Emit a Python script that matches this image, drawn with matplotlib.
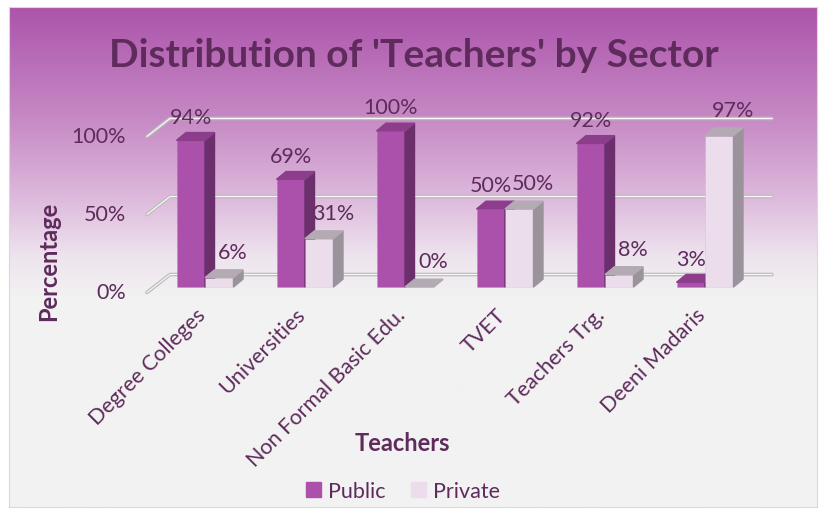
import numpy as np
import matplotlib.pyplot as plt
from matplotlib.patches import Polygon, Patch
from matplotlib.colors import LinearSegmentedColormap

categories = ['Degree Colleges', 'Universities', 'Non Formal Basic Edu.',
              'TVET', 'Teachers Trg.', 'Deeni Madaris']
public = [94, 69, 100, 50, 92, 3]
private = [6, 31, 0, 50, 8, 97]
yticks = [0, 50, 100]

plt.rcParams['font.family'] = ['Lato', 'DejaVu Sans']
TXT = '#5E2B5C'
PUB = ('#AB50AB', '#6B2F6B', '#8C3D8C')   # front, side, top
PRI = ('#EBDDEC', '#9B939B', '#B4AAB4')

W, H = 821, 510
fig = plt.figure(figsize=(W / 100, H / 100), dpi=100)


def box(x0, y0, x1, y1):
    # pixel box, origin top-left -> figure rect
    return [x0 / W, 1 - y1 / H, (x1 - x0) / W, (y1 - y0) / H]


# chart area with vertical gradient
bg = fig.add_axes(box(9, 8, 817, 508), zorder=0)
cmap = LinearSegmentedColormap.from_list('bg', [
    (0, '#AC54AB'), (0.22, '#C689C4'), (0.38, '#DDB9DC'),
    (0.5, '#EEE4EE'), (0.58, '#F2F2F2'), (1, '#F2F2F2')])
bg.imshow(np.linspace(0, 1, 256).reshape(-1, 1), aspect='auto', cmap=cmap,
          extent=(0, 1, 0, 1))
bg.set_xticks([])
bg.set_yticks([])
for s in bg.spines.values():
    s.set_color('#D9D9D9')

# plot area
ax = fig.add_axes(box(140, 112, 780, 296), zorder=1)
ax.set_xlim(-0.65, 5.75)
ax.set_ylim(-5.13, 112.8)
ax.patch.set_alpha(0)
ax.axis('off')

x = np.arange(len(categories))
w = 0.285
dx, dy = 0.095, 5.0

# back wall gridlines with slanted floor/side ends
for v in yticks:
    for c, lw in (('#BDBDBD', 2.6), ('#FAFAFA', 0.8)):
        ax.plot([-0.58, -0.35, 5.67], [v - 3.5, v + 8, v + 8], color=c, lw=lw,
                zorder=1, solid_capstyle='round')
    ax.text(-0.79, v - 3.5, f'{v}%', ha='right', va='center', fontsize=15.5,
            color=TXT)


def bars3d(xs, vals, cols, z):
    ax.bar(xs, vals, w, color=cols[0], edgecolor='#00000010', lw=0.5, zorder=z)
    for xc, v in zip(xs, vals):
        xl, xr = xc - w / 2, xc + w / 2
        ax.add_patch(Polygon([(xr, 0), (xr + dx, dy), (xr + dx, v + dy), (xr, v)],
                             closed=True, color=cols[1], zorder=z))
        ax.add_patch(Polygon([(xl, v), (xr, v), (xr + dx, v + dy), (xl + dx, v + dy)],
                             closed=True, color=cols[2], zorder=z))


bars3d(x - w / 2, public, PUB, 2)
bars3d(x + w / 2, private, PRI, 3)

for xi, v in zip(x - w / 2, public):
    ax.annotate(f'{v}%', (xi, v), xytext=(0, 17), textcoords='offset points',
                ha='center', va='center', fontsize=15.5, color=TXT, zorder=5)
for xi, v in zip(x + w / 2, private):
    ax.annotate(f'{v}%', (xi, v), xytext=(10, 18.5), textcoords='offset points',
                ha='center', va='center', fontsize=15.5, color=TXT, zorder=5)

for xi, lab in zip(x, categories):
    ax.text(xi - 0.1, -11, lab, rotation=45, ha='right', va='top',
            rotation_mode='anchor', fontsize=15.5, color=TXT)

fig.text(414 / W, 1 - 67 / H, "Distribution of 'Teachers' by Sector",
         ha='center', va='baseline', fontsize=28, weight='bold', color=TXT)
fig.text(49 / W, 1 - 261 / H, 'Percentage', rotation=90, ha='center',
         va='center', fontsize=17, weight='bold', color=TXT)
fig.text(402 / W, 1 - 444 / H, 'Teachers', ha='center', va='center',
         fontsize=17, weight='bold', color=TXT)

fig.legend(handles=[Patch(color=PUB[0]), Patch(color=PRI[0])],
           labels=['Public', 'Private'], loc='center',
           bbox_to_anchor=(403 / W, 1 - 492 / H), ncol=2, frameon=False,
           fontsize=15.5, handlelength=0.7, handleheight=0.7,
           columnspacing=1.2, handletextpad=0.3, labelcolor=TXT)

fig.savefig('out.png', dpi=100)
